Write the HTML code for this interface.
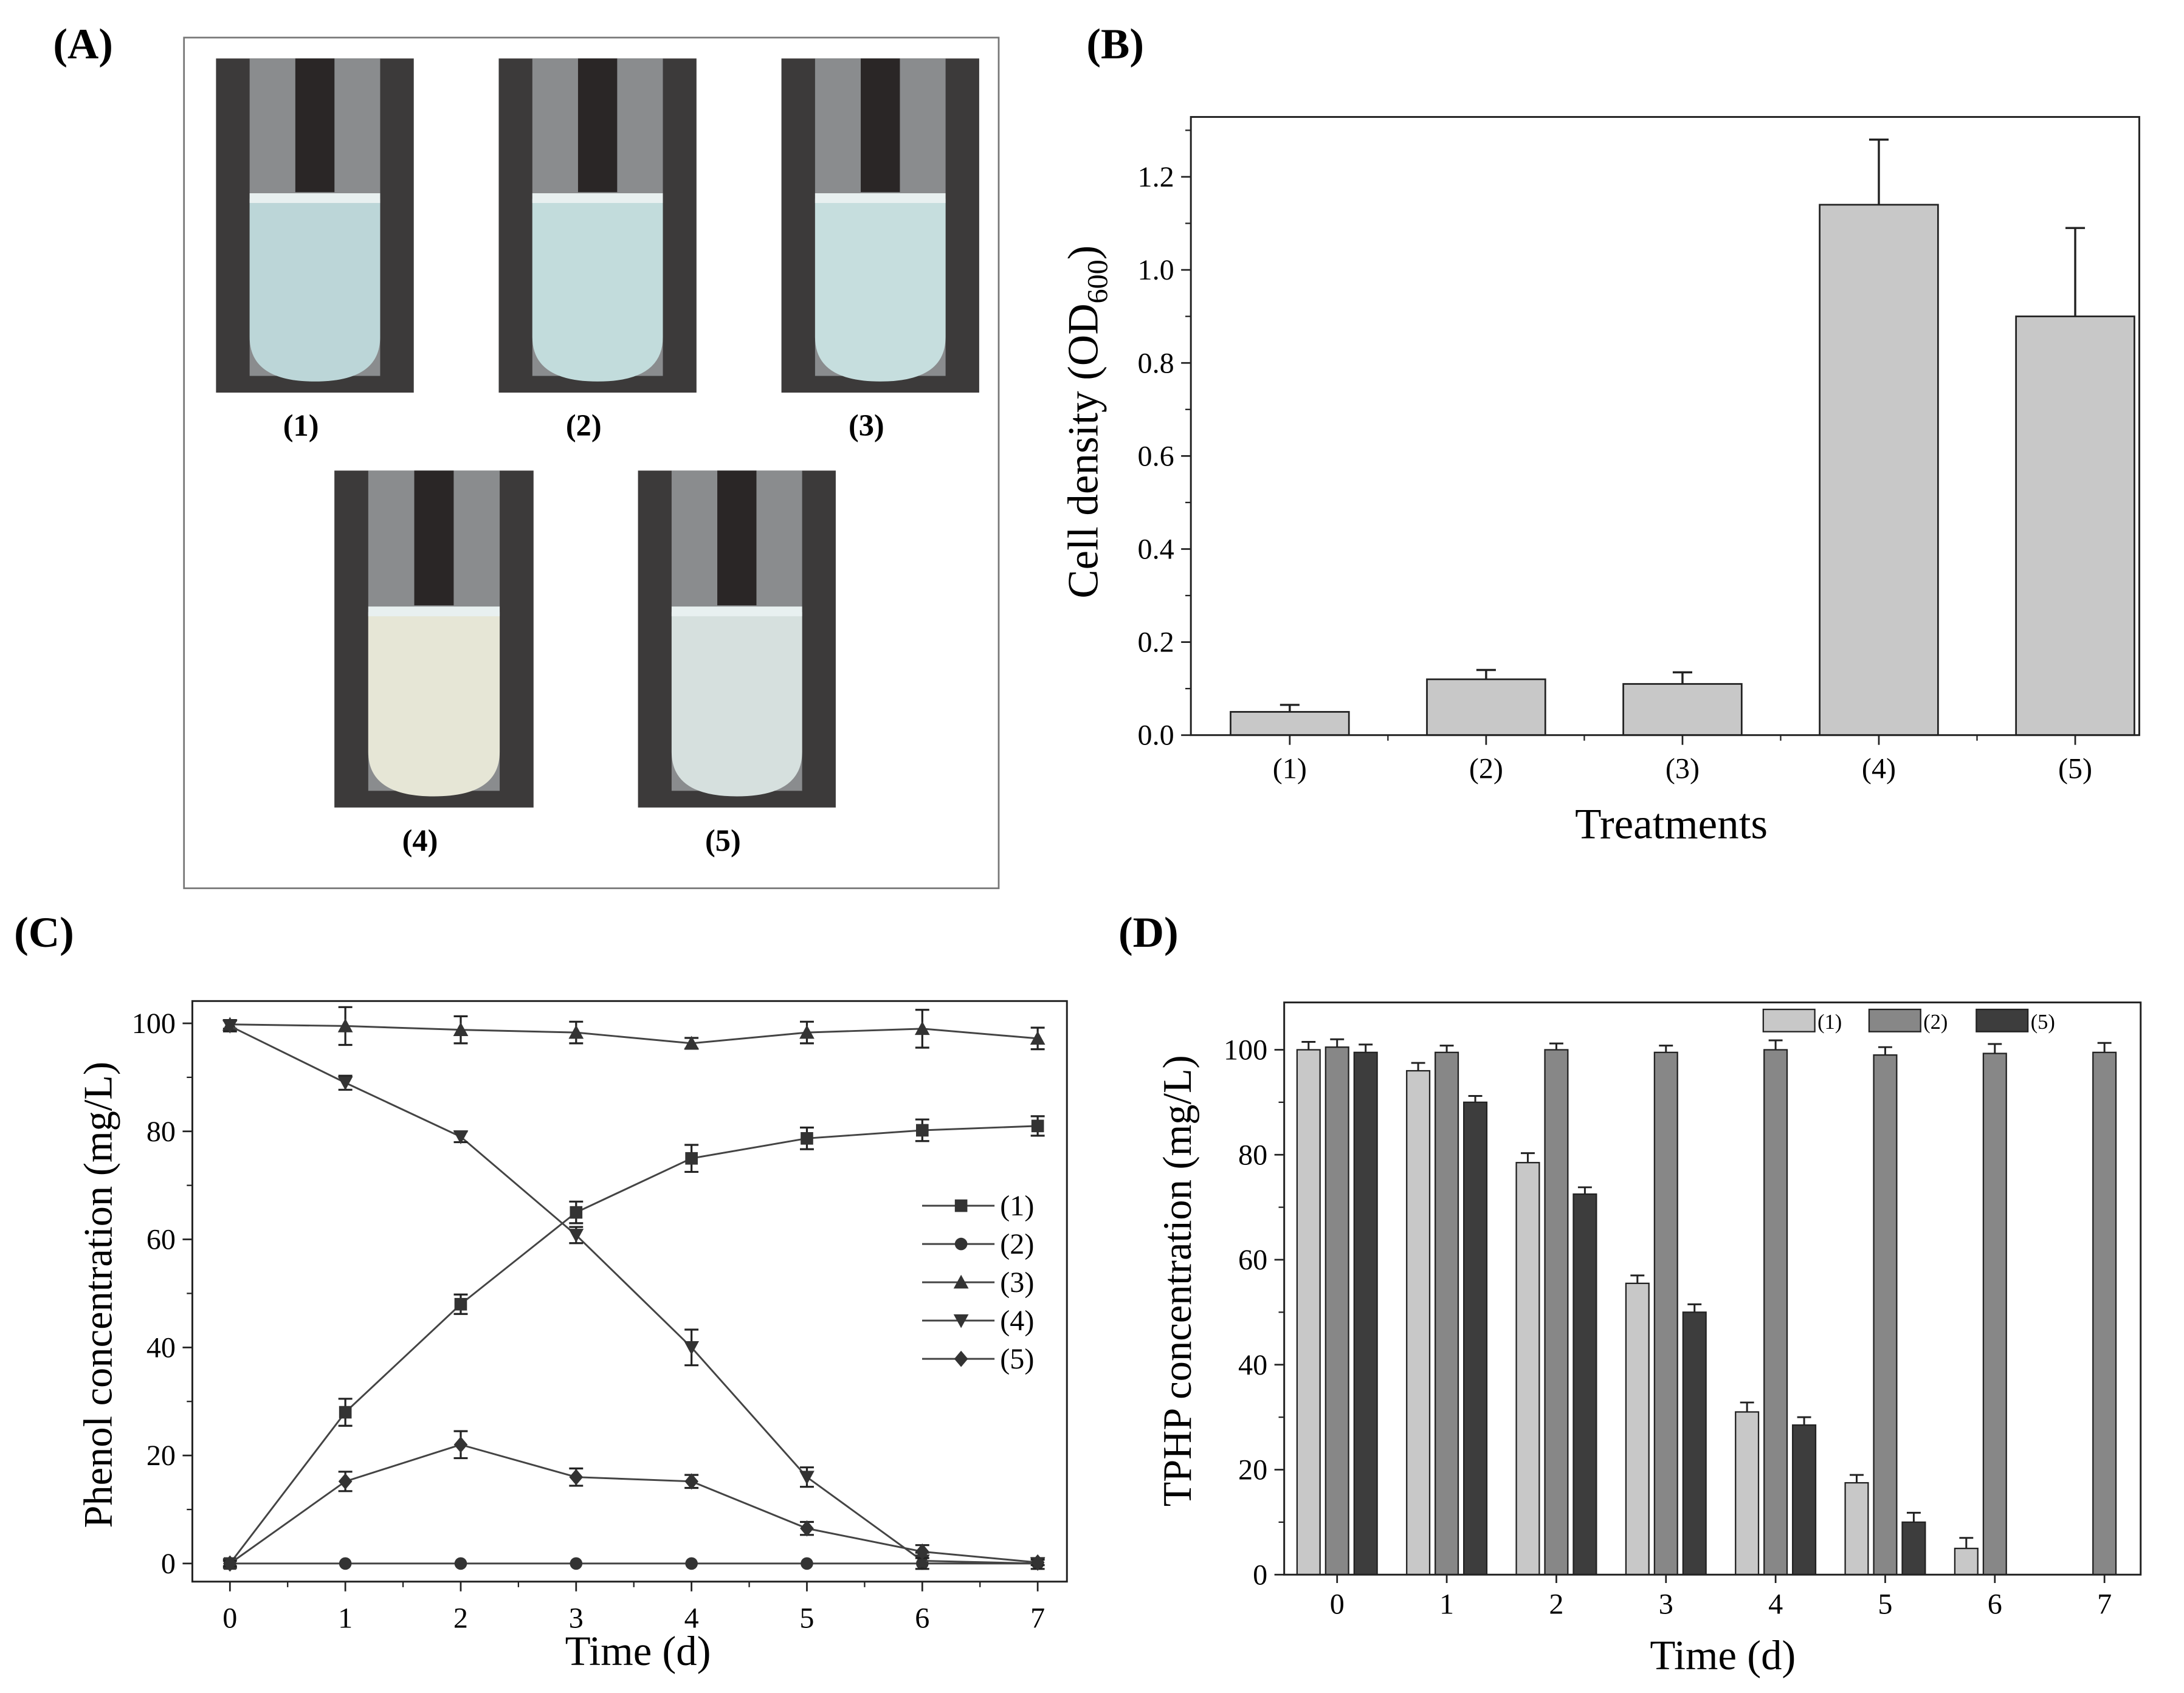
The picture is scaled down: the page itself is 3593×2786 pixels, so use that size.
<!DOCTYPE html>
<html><head><meta charset="utf-8"><style>
html,body{margin:0;padding:0;background:#fff;}
svg{display:block;font-family:"Liberation Serif",serif;}
</style></head><body>
<svg id="fig" xmlns="http://www.w3.org/2000/svg" width="3593" height="2786" viewBox="0 0 1568 1216">
<rect x="0" y="0" width="1568" height="1216" fill="#fff"/>
<g font-weight="bold" font-size="31" fill="#000">
<text x="38" y="42">(A)</text>
<text x="780" y="42">(B)</text>
<text x="10" y="680">(C)</text>
<text x="803" y="680">(D)</text>
</g>
<rect x="132" y="27" width="585" height="611" fill="none" stroke="#777" stroke-width="1.2"/>
<g id="photos"></g>
<g id="chartB"></g>
<g id="chartC"></g>
<g id="chartD"></g>
</svg>
<script>
const NS="http://www.w3.org/2000/svg";
function mk(tag,attrs,parent,txt){const e=document.createElementNS(NS,tag);for(const k in attrs)e.setAttribute(k,attrs[k]);if(txt!==undefined)e.textContent=txt;parent.appendChild(e);return e;}

// ---------- Panel A photos ----------
const photoLabels=["(1)","(2)","(3)","(4)","(5)"];
const photoBoxes=[[155,42,142,240],[358,42,142,240],[561,42,142,240],[240,338,143,242],[458,338,142,242]];
const liquidColors=["#bcd6d8","#c2dcdc","#c6dede","#e6e6d6","#d6e0de"];
const gP=document.getElementById('photos');
photoBoxes.forEach((b,i)=>{
  const [x,y,w,h]=b;
  const g=mk('g',{},gP);
  
  
  mk('rect',{x:x,y:y,width:w,height:h,fill:"#3c3a3a"},g);
  const tx=x+w*0.17,tw=w*0.66;
  mk('rect',{x:tx,y:y,width:tw,height:h-12,rx:0,fill:"#8a8c8e"},g);
  mk('rect',{x:tx+tw*0.35,y:y,width:tw*0.3,height:h*0.4,fill:"#2a2626"},g);
  const ly=y+h*0.42;
  mk('path',{d:`M${tx} ${ly} L${tx+tw} ${ly} L${tx+tw} ${y+h-40} Q${tx+tw} ${y+h-8} ${tx+tw/2} ${y+h-8} Q${tx} ${y+h-8} ${tx} ${y+h-40} Z`,fill:liquidColors[i]},g);
  mk('rect',{x:tx,y:ly-4,width:tw,height:7,fill:"#e8f0f0"},g);
  const lab=mk('text',{x:x+w/2-10,y:y+h+31,"font-size":22,"font-weight":"bold","text-anchor":"middle"},gP,photoLabels[i]);
  
  
});

// ---------- Panel B ----------
const bCategories=["(1)","(2)","(3)","(4)","(5)"];
const bValues=[0.05,0.12,0.11,1.14,0.90];
const bErrors=[0.015,0.02,0.025,0.14,0.19];
const bTicks=[0,0.2,0.4,0.6,0.8,1.0,1.2];
(function(){
  const g=document.getElementById('chartB');
  const L=855,R=1536,T=84,B=528;
  const y=v=>528-v*(528-127)/1.2;
  const x=i=>926+i*141;
  bCategories.forEach((c,i)=>{
    const bw=85;
    const r=mk('rect',{x:x(i)-bw/2,y:y(bValues[i]),width:bw,height:y(0)-y(bValues[i]),fill:"#c8c8c8",stroke:"#222","stroke-width":1.2},g);
    
    
    const top=y(bValues[i]+bErrors[i]);
    const e=mk('path',{d:`M${x(i)} ${y(bValues[i])} V${top} M${x(i)-7} ${top} H${x(i)+7}`,stroke:"#222","stroke-width":1.5,fill:"none"},g);
    
    
    mk('line',{x1:x(i),x2:x(i),y1:B,y2:B+7,stroke:"#222","stroke-width":1.2},g);
    const t=mk('text',{x:x(i),y:B+31,"font-size":21,"text-anchor":"middle"},g,c);
    
    
  });
  for(let i=0;i<bCategories.length-1;i++){mk('line',{x1:x(i)+70.5,x2:x(i)+70.5,y1:B,y2:B+4,stroke:"#222"},g);}
  bTicks.forEach(v=>{
    mk('line',{x1:L,x2:L-7,y1:y(v),y2:y(v),stroke:"#222","stroke-width":1.2},g);
    const t=mk('text',{x:L-12,y:y(v)+7,"font-size":21,"text-anchor":"end"},g,v.toFixed(1));
    
    
  });
  for(let k=0;k<7;k++){const v=0.1+k*0.2;mk('line',{x1:L,x2:L-4,y1:y(v),y2:y(v),stroke:"#222"},g);}
  const ax=mk('rect',{x:L,y:T,width:R-L,height:B-T,fill:"none",stroke:"#222","stroke-width":1.3},g);
  
  
  const xt=mk('text',{x:1200,y:602,"font-size":31,"text-anchor":"middle"},g,"Treatments");
  
  
  const yt=mk('text',{transform:"translate(788,303) rotate(-90)","font-size":31,"text-anchor":"middle"},g);
  
  
  mk('tspan',{},yt,"Cell density (OD");
  mk('tspan',{dy:7,"font-size":21},yt,"600");
  mk('tspan',{dy:-7},yt,")");
})();

// ---------- Panel C ----------
const cDays=[0,1,2,3,4,5,6,7];
const cSeries1=[0,28,48,65,75,78.7,80.2,81];
const cErr1=[0.8,2.5,1.8,2,2.5,2,2,1.8];
const cSeries2=[0,0,0,0,0,0,0,0];
const cErr2=[0,0,0,0,0,0,0,0];
const cSeries3=[99.8,99.5,98.8,98.3,96.3,98.3,99,97.2];
const cErr3=[0.8,3.5,2.5,2,1,2,3.5,2];
const cSeries4=[99.5,89,79,60.8,40,16,0.5,0];
const cErr4=[1,1.3,1,1.5,3.3,1.8,1.5,1];
const cSeries5=[0,15.2,22,16,15.2,6.5,2.2,0.2];
const cErr5=[0.5,1.8,2.5,1.6,1.2,1.2,1.2,0.5];
const cYTicks=[0,20,40,60,80,100];
const cNames=["(1)","(2)","(3)","(4)","(5)"];
function marker(g,type,cx,cy,s){
  if(type==="square")return mk('rect',{x:cx-s,y:cy-s,width:2*s,height:2*s,fill:"#333"},g);
  if(type==="circle")return mk('circle',{cx:cx,cy:cy,r:s,fill:"#333"},g);
  if(type==="up")return mk('path',{d:`M${cx} ${cy-s*1.2} L${cx+s*1.2} ${cy+s} L${cx-s*1.2} ${cy+s}Z`,fill:"#333"},g);
  if(type==="down")return mk('path',{d:`M${cx} ${cy+s*1.2} L${cx+s*1.2} ${cy-s} L${cx-s*1.2} ${cy-s}Z`,fill:"#333"},g);
  return mk('path',{d:`M${cx} ${cy-s*1.3} L${cx+s*1.1} ${cy} L${cx} ${cy+s*1.3} L${cx-s*1.1} ${cy}Z`,fill:"#333"},g);
}
(function(){
  const g=document.getElementById('chartC');
  const L=138,R=766,T=719,B=1136;
  const x=d=>165+d*(745-165)/7;
  const y=v=>1123-v*(1123-735)/100;
  const series=[[cSeries1,cErr1,"square"],[cSeries2,cErr2,"circle"],[cSeries3,cErr3,"up"],[cSeries4,cErr4,"down"],[cSeries5,cErr5,"diamond"]];
  series.forEach((s,si)=>{
    const sg=mk('g',{},g);
    
    
    const pts=cDays.map((d,i)=>x(d)+","+y(s[0][i])).join(" ");
    mk('polyline',{points:pts,fill:"none",stroke:"#444","stroke-width":1.3},sg);
    cDays.forEach((d,i)=>{
      const e=s[1][i];
      if(e>0){const y1=y(s[0][i]+e),y2=y(s[0][i]-e);
        mk('path',{d:`M${x(d)} ${y1} V${y2} M${x(d)-5} ${y1} H${x(d)+5} M${x(d)-5} ${y2} H${x(d)+5}`,stroke:"#222","stroke-width":1.4,fill:"none"},sg);}
      const m=marker(sg,s[2],x(d),y(s[0][i]),4.5);
      
      
    });
  });
  cDays.forEach(d=>{
    mk('line',{x1:x(d),x2:x(d),y1:B,y2:B+7,stroke:"#222","stroke-width":1.2},g);
    if(d<7)mk('line',{x1:x(d+0.5),x2:x(d+0.5),y1:B,y2:B+4,stroke:"#222"},g);
    const t=mk('text',{x:x(d),y:1169,"font-size":21,"text-anchor":"middle"},g,String(d));
    
    
  });
  cYTicks.forEach(v=>{
    mk('line',{x1:L,x2:L-7,y1:y(v),y2:y(v),stroke:"#222","stroke-width":1.2},g);
    if(v<100)mk('line',{x1:L,x2:L-4,y1:y(v+10),y2:y(v+10),stroke:"#222"},g);
    const t=mk('text',{x:L-12,y:y(v)+7,"font-size":21,"text-anchor":"end"},g,String(v));
    
    
  });
  const ax=mk('rect',{x:L,y:T,width:R-L,height:B-T,fill:"none",stroke:"#222","stroke-width":1.3},g);
  
  
  const lg=mk('g',{},g);
  
  
  cNames.forEach((n,i)=>{
    const ly=866+i*27.5;
    const eg=mk('g',{},lg);
    
    
    mk('line',{x1:662,x2:714,y1:ly,y2:ly,stroke:"#444","stroke-width":1.3},eg);
    marker(eg,series[i][2],690,ly,4.5);
    mk('text',{x:718,y:ly+7,"font-size":21},eg,n);
  });
  const xt=mk('text',{x:458,y:1196,"font-size":30,"text-anchor":"middle"},g,"Time (d)");
  
  
  const yt=mk('text',{transform:"translate(80,930) rotate(-90)","font-size":29,"text-anchor":"middle"},g,"Phenol concentration (mg/L)");
  
  
})();

// ---------- Panel D ----------
const dDays=[0,1,2,3,4,5,6,7];
const dSeries1=[100,96,78.5,55.5,31,17.5,5,0];
const dErr1=[1.5,1.5,1.8,1.5,1.8,1.5,2,0];
const dSeries2=[100.5,99.5,100,99.5,100,99,99.3,99.5];
const dErr2=[1.5,1.3,1.2,1.3,1.8,1.5,1.8,1.8];
const dSeries5=[99.5,90,72.5,50,28.5,10,0,0];
const dErr5=[1.5,1.2,1.3,1.5,1.5,1.8,0,0];
const dYTicks=[0,20,40,60,80,100];
const dNames=["(1)","(2)","(5)"];
(function(){
  const g=document.getElementById('chartD');
  const L=922,R=1537,T=720,B=1131;
  const x=d=>960+d*(1511-960)/7;
  const y=v=>1131-v*(1131-754)/100;
  const colors=["#c8c8c8","#878787","#3d3d3d"];
  const ser=[[dSeries1,dErr1],[dSeries2,dErr2],[dSeries5,dErr5]];
  const bw=16.5,off=[-20.5,0,20.5];
  ser.forEach((s,si)=>{
    dDays.forEach((d,i)=>{
      const v=s[0][i];
      if(v<=0)return;
      const cx=x(d)+off[si];
      const r=mk('rect',{x:cx-bw/2,y:y(v),width:bw,height:y(0)-y(v),fill:colors[si],stroke:"#222","stroke-width":1},g);
      
      
      const e=s[1][i];
      if(e>0){const t=y(v+e);
        mk('path',{d:`M${cx} ${y(v)} V${t} M${cx-5} ${t} H${cx+5}`,stroke:"#222","stroke-width":1.3,fill:"none"},g);}
    });
  });
  dDays.forEach(d=>{
    mk('line',{x1:x(d),x2:x(d),y1:B,y2:B+6,stroke:"#222","stroke-width":1.2},g);
    const t=mk('text',{x:x(d),y:B+28,"font-size":21,"text-anchor":"middle"},g,String(d));
    
    
  });
  dYTicks.forEach(v=>{
    mk('line',{x1:L,x2:L-7,y1:y(v),y2:y(v),stroke:"#222","stroke-width":1.2},g);
    if(v<100)mk('line',{x1:L,x2:L-4,y1:y(v+10),y2:y(v+10),stroke:"#222"},g);
    const t=mk('text',{x:L-12,y:y(v)+7,"font-size":21,"text-anchor":"end"},g,String(v));
    
    
  });
  const ax=mk('rect',{x:L,y:T,width:R-L,height:B-T,fill:"none",stroke:"#222","stroke-width":1.3},g);
  
  
  const lg=mk('g',{},g);
  
  
  const lx=[1266,1342,1419];
  dNames.forEach((n,i)=>{
    const eg=mk('g',{},lg);
    
    
    mk('rect',{x:lx[i],y:725,width:37,height:16,fill:colors[i],stroke:"#222","stroke-width":1},eg);
    mk('text',{x:lx[i]+39,y:739,"font-size":15},eg,n);
  });
  const xt=mk('text',{x:1237,y:1199,"font-size":30,"text-anchor":"middle"},g,"Time (d)");
  
  
  const yt=mk('text',{transform:"translate(855,920) rotate(-90)","font-size":29,"text-anchor":"middle"},g,"TPHP concentration (mg/L)");
  
  
})();
</script>
</body></html>
